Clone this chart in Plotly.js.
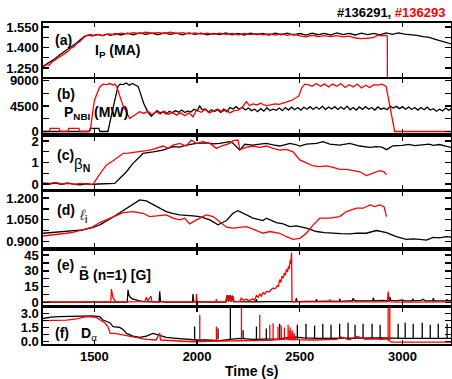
<!DOCTYPE html>
<html><head><meta charset="utf-8">
<script src="https://cdn.plot.ly/plotly-3.0.1.min.js"></script>
<style>html,body{margin:0;padding:0;background:#fff}</style>
</head><body><div id="chart" style="width:452px;height:379px"></div>
<script>
// ---------- (a) Plasma current Ip (MA) ----------
const ipBlackT = [1250,1270,1290,1310,1330,1350,1370,1390,1410,1430,1450,1465,1480,1500,1520,1540,1560,1580,1600,1630,1660,1690,1720,1750,1780,1810,1840,1870,1900,1930,1960,1990,2020,2050,2080,2110,2140,2170,2200,2230,2260,2290,2320,2350,2380,2410,2440,2470,2500,2530,2560,2590,2620,2650,2680,2710,2740,2770,2800,2830,2860,2890,2920,2950,2980,3010,3040,3070,3100,3130,3160,3190,3215,3240];
const ipBlackV = [1.262,1.28,1.30,1.32,1.345,1.365,1.385,1.41,1.43,1.455,1.48,1.49,1.495,1.488,1.497,1.486,1.498,1.49,1.502,1.492,1.506,1.494,1.507,1.496,1.505,1.494,1.508,1.497,1.505,1.493,1.507,1.496,1.505,1.493,1.504,1.495,1.507,1.493,1.504,1.492,1.506,1.495,1.503,1.491,1.505,1.494,1.506,1.492,1.503,1.491,1.506,1.494,1.504,1.492,1.507,1.495,1.504,1.492,1.506,1.495,1.504,1.493,1.507,1.497,1.508,1.498,1.494,1.49,1.48,1.474,1.46,1.447,1.436,1.425];
const ipRedT = [1250,1265,1280,1295,1310,1325,1340,1355,1370,1385,1400,1415,1430,1445,1460,1475,1490,1510,1540,1570,1600,1630,1660,1690,1720,1750,1780,1810,1840,1870,1900,1930,1960,1990,2020,2050,2080,2110,2140,2170,2200,2230,2260,2290,2320,2350,2380,2410,2440,2470,2500,2530,2560,2590,2620,2650,2680,2710,2740,2770,2800,2830,2860,2880,2900,2915,2926,2928];
const ipRedV = [1.255,1.275,1.27,1.295,1.31,1.325,1.34,1.36,1.37,1.395,1.405,1.43,1.445,1.47,1.485,1.49,1.484,1.496,1.49,1.5,1.494,1.506,1.5,1.51,1.502,1.512,1.505,1.51,1.503,1.512,1.504,1.51,1.5,1.508,1.498,1.506,1.497,1.505,1.496,1.503,1.493,1.503,1.495,1.502,1.494,1.5,1.492,1.5,1.49,1.498,1.485,1.478,1.49,1.48,1.488,1.48,1.487,1.478,1.484,1.47,1.465,1.468,1.475,1.49,1.485,1.49,1.485,0.0];

// ---------- (b) P_NBI ----------
const pRedT = [1250,1280,1285,1328,1333,1370,1375,1425,1430,1470,1480,1500,1525,1542,1560,1575,1590,1600,1610,1640,1672,1690,1720,1740,1760,1780,1800,1820,1840,1860,1880,1900,1920,1940,1960,1980,1997,2020,2040,2060,2080,2100,2120,2140,2160,2180,2200,2220,2240,2255,2272,2290,2310,2325,2340,2360,2380,2400,2420,2440,2460,2480,2495,2510,2525,2540,2560,2580,2600,2620,2640,2660,2680,2700,2720,2740,2760,2780,2800,2820,2840,2860,2880,2900,2920,2962,3240];
const pRedV = [0,0,550,550,0,0,550,550,0,0,200,5500,7800,8400,8300,8500,8250,8400,7800,4500,2300,2800,3500,3200,3600,3000,3500,3100,3600,3000,3400,2900,3300,2800,3300,2600,3800,3400,3900,3300,3600,4000,3500,3800,3300,3700,3800,4300,5300,4600,4900,4700,5000,4700,4600,4800,4900,4800,5100,5300,5500,6000,6300,7800,8400,8300,8000,8500,8000,8400,7900,8400,8000,8500,7800,8300,7900,8400,7700,8200,7800,8300,8200,8400,8000,0,0];
const pBlackT = [1250,1475,1480,1522,1527,1566,1590,1615,1625,1640,1655,1670,1685,1700,1713,1740,1761,1777,1790,1805,1820,1835,1850,1865,1880,1895,1910,1925,1940,1955,1970,1985,2000,2013,2025,2040,2055,2070,2085,2100,2115,2130,2145,2160,2175,2190,2205,2220,2235,2250,2265,2280,2295,2310,2325,2340,2355,2370,2385,2400,2415,2430,2445,2460,2475,2490,2505,2520,2535,2550,2565,2580,2595,2610,2625,2640,2655,2670,2685,2700,2715,2730,2745,2760,2775,2790,2805,2820,2835,2850,2865,2880,2895,2910,2925,2940,2955,2970,2985,3000,3015,3030,3045,3060,3075,3090,3105,3120,3135,3150,3165,3180,3195,3210,3225,3240];
const pBlackV = [0,0,550,550,0,0,4000,8000,8400,8300,8600,8200,8500,8300,8000,5000,3400,2700,3200,3700,3300,3500,3100,3600,3300,3700,3400,3800,3350,3650,3450,3950,3650,4500,3850,4000,3450,3850,3550,3850,3400,3950,3500,4250,4000,4400,3950,4300,3800,4150,3700,3950,3500,4050,3600,4200,3700,3950,3750,4150,3700,4250,3800,4300,3850,4250,3800,4300,3950,4400,3900,4350,3950,4500,3900,4350,4000,4400,3900,4350,3950,4500,3850,4250,3800,4350,3900,4400,3950,4250,3800,4350,3950,4150,3850,4500,4150,4450,4050,4400,3950,4350,3900,4250,3800,4250,3850,4300,3800,4050,3600,3950,3650,4150,3750,4150];

// ---------- (c) beta_N ----------
const bRedT = [1250,1280,1310,1340,1370,1400,1430,1460,1493,1525,1558,1591,1615,1640,1665,1688,1720,1753,1780,1802,1834,1859,1883,1915,1948,1972,1997,2029,2062,2094,2118,2159,2175,2199,2208,2240,2272,2305,2337,2370,2402,2435,2467,2500,2532,2565,2597,2630,2662,2694,2727,2759,2792,2824,2857,2889,2910,2922];
const bRedV = [0.05,0.03,0.07,0.0,0.05,-0.02,0.03,0.0,-0.03,0.45,0.88,1.08,1.25,1.43,1.44,1.46,1.50,1.55,1.6,1.66,1.77,1.66,1.81,1.89,1.77,2.05,1.89,1.97,1.89,1.66,1.77,1.89,2.02,2.05,1.61,1.71,1.77,1.71,1.77,1.66,1.58,1.61,1.50,1.12,0.99,0.84,0.81,0.84,0.78,0.68,0.68,0.62,0.57,0.39,0.50,0.62,0.57,0.42];
const bBlackT = [1250,1280,1310,1340,1370,1400,1430,1460,1490,1520,1550,1580,1599,1656,1688,1721,1737,1786,1834,1883,1915,1948,1997,2045,2080,2110,2140,2159,2175,2191,2208,2232,2272,2305,2337,2370,2402,2435,2451,2480,2500,2532,2581,2613,2646,2694,2743,2792,2841,2873,2900,2922,2954,3000,3030,3060,3100,3130,3150,3180,3210,3240];
const bBlackV = [0.02,0.0,0.04,-0.02,0.03,0.0,-0.04,0.01,-0.02,0.0,0.02,0.01,0.03,0.57,0.96,1.27,1.43,1.50,1.58,1.74,1.72,1.81,1.89,1.92,1.87,1.89,1.93,1.97,1.9,1.74,1.58,1.85,1.81,1.86,1.89,1.82,1.77,1.85,1.89,1.84,1.77,1.86,1.89,1.97,1.86,1.81,1.89,1.77,1.71,1.74,1.72,1.6,1.78,1.8,1.85,1.79,1.82,1.86,1.8,1.84,1.76,1.70];

// ---------- (d) internal inductance li ----------
const liBlackT = [1250,1300,1364,1400,1445,1490,1526,1570,1607,1640,1672,1700,1721,1753,1780,1802,1850,1880,1915,1980,2013,2062,2102,2143,2175,2199,2240,2272,2321,2337,2386,2419,2451,2483,2532,2581,2620,2662,2700,2743,2780,2824,2873,2922,2970,3019,3050,3084,3116,3149,3180,3214,3240];
const liBlackV = [0.957,0.962,0.969,0.975,0.980,0.995,1.015,1.05,1.084,1.11,1.141,1.17,1.187,1.180,1.16,1.141,1.107,1.095,1.084,1.077,1.072,1.049,1.015,1.045,1.095,1.113,1.084,1.061,1.045,1.061,1.031,1.022,1.003,1.008,0.992,0.969,0.962,0.957,0.955,0.953,0.958,0.957,0.976,0.962,0.933,0.915,0.918,0.915,0.910,0.929,0.925,0.933,0.929];
const liRedT = [1250,1300,1364,1400,1445,1490,1526,1560,1591,1640,1688,1737,1769,1818,1850,1883,1915,1940,1964,1997,2045,2078,2110,2143,2175,2210,2240,2272,2321,2354,2402,2435,2467,2500,2532,2565,2597,2646,2694,2727,2776,2808,2841,2865,2889,2910,2922];
const liRedV = [0.938,0.945,0.957,0.965,0.980,1.0,1.031,1.05,1.072,1.100,1.107,1.095,1.072,1.077,1.084,1.061,1.049,1.061,1.022,1.049,1.084,1.072,1.038,0.999,0.992,0.998,1.003,0.985,0.957,0.969,0.957,0.933,0.915,0.922,0.957,1.015,1.061,1.061,1.072,1.107,1.130,1.130,1.153,1.141,1.153,1.14,1.072];

// ---------- (e) B~ (n=1) [G] ----------
const bnRedT = [1250,1300,1350,1400,1450,1500,1550,1580,1583,1590,1600,1610,1650,1700,1745,1753,1760,1770,1775,1780,1800,1850,1900,1950,1995,1997,2000,2050,2090,2094,2098,2140,2145,2150,2160,2165,2175,2180,2208,2215,2225,2240,2255,2270,2280,2289,2296,2305,2313,2321,2330,2337,2350,2360,2370,2380,2390,2396,2402,2408,2413,2419,2425,2430,2435,2440,2445,2449,2453,2456,2460,2462,2500,2550,2600,2643,2646,2650,2700,2750,2800,2850,2900,2926,2930,2935,2940,3000,3050,3100,3150,3200,3240];
const bnRedV = [0.5,0.3,0.6,0.4,0.5,0.4,0.6,0.5,12.8,5,1.5,0.5,0.6,0.4,0.8,5,1.5,4.5,6,1,0.6,0.5,0.4,0.6,0.5,8,1,0.6,0.5,3,0.5,0.6,7,1,6.5,1,6,0.8,1,4,2,3,1.5,3.5,2,7,4.5,8,6,9.5,8,10.5,10,12,13.7,13,16,15,21.8,19,25,23,28,26,31.5,29,34.5,32,40,37,47.5,0.5,0.6,0.5,0.4,0.5,3,0.5,0.6,0.4,0.5,0.6,0.5,0.6,10.4,1,0.5,0.4,0.5,0.4,0.5,0.4,0.5];
const bnBlackT = [1250,1300,1350,1400,1450,1500,1550,1600,1660,1664,1668,1675,1685,1700,1720,1740,1780,1815,1818,1822,1850,1900,1950,1978,1980,1984,2050,2100,2140,2150,2154,2162,2166,2172,2176,2250,2286,2289,2293,2350,2400,2450,2480,2483,2487,2530,2578,2581,2585,2640,2692,2694,2698,2740,2755,2760,2765,2780,2820,2855,2858,2862,2900,2936,2939,2943,2970,3000,3010,3047,3050,3054,3090,3100,3110,3147,3150,3154,3200,3213,3216,3220,3240];
const bnBlackV = [0.3,0.4,0.2,0.3,0.4,0.2,0.3,0.4,0.3,12,7,5,3.5,2.5,1.5,0.8,0.4,0.3,10.5,1,0.4,0.3,0.4,0.3,8,0.5,0.4,0.3,0.4,7,0.8,7,0.8,6.5,0.8,0.5,0.6,3,0.6,0.8,0.7,0.8,0.8,4,0.8,1,1,3,1,1.2,1,3.5,1,1.5,1.5,4,2,1.5,1.5,1.5,4.5,1.5,2,1.5,5,2,1.5,2.5,1.5,1.5,3.5,1.5,2,3,1.5,1.5,4,1.5,1.5,1.5,3,1.5,2];

// ---------- (f) D-alpha ----------
const daBlackT = [1250,1290,1331,1390,1445,1490,1526,1542,1575,1591,1623,1640,1656,1688,1721,1753,1786,1818,1850,1899,1948,1997,2045,2110,2159,2208,2272,2337,2400,2467,2520,2600,2700,2800,2900,3000,3100,3200,3240];
const daBlackV = [2.45,2.6,2.64,2.68,2.71,2.72,2.64,2.29,2.01,1.59,1.52,1.3,0.88,0.60,0.46,0.6,0.88,0.71,0.46,0.36,0.25,0.18,0.18,0.11,0.25,0.36,0.25,0.25,0.3,0.5,0.4,0.35,0.38,0.35,0.4,0.35,0.38,0.33,0.35];
const daBlackSpikeT = [1988,2102,2162,2224,2289,2337,2402,2488,2530,2572,2612,2652,2694,2735,2769,2808,2852,2891,2979,3013,3052,3096,3135,3174,3217];
const daBlackSpikeV = [1.6,1.4,3.6,1.2,1.6,1.4,1.9,1.8,1.9,1.7,1.9,1.8,1.9,2.0,1.8,1.9,1.9,1.8,1.9,2.0,1.9,2.0,1.8,1.9,1.9];
const daBlackSpikeBase = 0.3;
const daRedT = [1250,1300,1364,1420,1461,1510,1526,1550,1566,1573,1577,1599,1640,1688,1753,1800,1818,1822,1883,1980,2050,2150,2250,2350,2440,2500,2560,2620,2680,2700,2740,2780,2820,2860,2900,2925,2945,3000,3240];
const daRedV = [2.22,2.25,2.29,2.45,2.64,2.57,2.36,2.01,1.59,1.2,0.88,0.88,0.71,0.46,0.25,0.18,0.9,0.18,0.11,0.0,0.05,0.1,0.12,0.15,0.3,0.2,0.18,0.2,0.25,0.5,0.2,0.55,0.25,0.3,0.25,0.3,-0.05,-0.05,-0.05];
const daRedSpikeT = [2013,2094,2216,2305,2354,2370,2394,2410,2425,2443,2448,2453,2458,2463,2468,2473,2478,2930,2938];
const daRedSpikeV = [2.82,1.6,3.6,2.82,1.8,1.94,1.6,1.7,1.5,1.8,1.2,1.5,1.0,1.2,0.8,0.9,0.6,3.6,3.6];
const daRedSpikeBase = 0.15;

const timeTicks = [1500,2000,2500,3000];

// ---------- build ----------
const RED = '#ff0000', BLK = '#000000';
function line(x, y, color, n) {
  return {x: x, y: y, type: 'scatter', mode: 'lines', xaxis: n === 1 ? 'x' : 'x' + n, yaxis: n === 1 ? 'y' : 'y' + n,
          line: {color: color, width: 1.3}, hoverinfo: 'skip', showlegend: false, connectgaps: false};
}
function spikes(ts, vs, base, color, n) {
  const x = [], y = [];
  for (let i = 0; i < ts.length; i++) { x.push(ts[i], ts[i], null); y.push(base, vs[i], null); }
  return line(x, y, color, n);
}
const data = [
  line(ipBlackT, ipBlackV, BLK, 1), line(ipRedT, ipRedV, RED, 1),
  line(pBlackT, pBlackV, BLK, 2), line(pRedT, pRedV, RED, 2),
  line(bBlackT, bBlackV, BLK, 3), line(bRedT, bRedV, RED, 3),
  line(liBlackT, liBlackV, BLK, 4), line(liRedT, liRedV, RED, 4),
  line(bnBlackT, bnBlackV, BLK, 5), line(bnRedT, bnRedV, RED, 5),
  line(daBlackT, daBlackV, BLK, 6), spikes(daBlackSpikeT, daBlackSpikeV, daBlackSpikeBase, BLK, 6),
  line(daRedT, daRedV, RED, 6), spikes(daRedSpikeT, daRedSpikeV, daRedSpikeBase, RED, 6)
];

const FONT = 'Liberation Sans, Arial, sans-serif';
const tickFont = {family: FONT, size: 13, color: '#000', weight: 'bold'};
const PT = 23, PB = 344, PH = PB - PT;
const panels = [[23,77],[79,133],[137,188.5],[192,247],[251,305],[308,344]];
const yRanges = [[1.184,1.58],[-265,9300],[-0.21,2.19],[0.862,1.242],[-2.4,48.9],[-0.24,3.56]];
// labelled ticks and the unlabelled mid ticks between them
const yTicks = [[1.25,1.325,1.4,1.475,1.55],[0,2250,4500,6750,9000],[0,0.5,1,1.5,2],[0.9,0.975,1.05,1.125,1.2],[0,7.5,15,22.5,30,37.5,45],[0,0.75,1.5,2.25,3]];
const yText = [['1.250',' ','1.400',' ','1.550'],['0',' ','4500',' ','9000'],['0',' ','1',' ','2'],['0.900',' ','1.050',' ','1.200'],['0',' ','15',' ','30',' ','45'],['0.0',' ','1.5',' ','3.0']];

const layout = {width: 452, height: 379, margin: {l: 43, r: 1, t: PT, b: 379 - PB, pad: 0},
  paper_bgcolor: '#fff', plot_bgcolor: '#fff', showlegend: false, annotations: []};
for (let i = 0; i < 6; i++) {
  const n = i + 1, sx = n === 1 ? '' : String(n);
  const xa = {range: [1250, 3236], anchor: 'y' + sx,
    tickmode: 'array', tickvals: timeTicks, ticktext: timeTicks.map(String),
    showticklabels: n === 6, ticks: 'inside', ticklen: 4, tickwidth: 1.3, tickcolor: '#000',
    showline: true, linecolor: '#000', linewidth: 1.6, mirror: 'ticks', showgrid: false, zeroline: false,
    tickfont: tickFont};
  if (n > 1) xa.matches = 'x';
  layout['xaxis' + sx] = xa;
  layout['yaxis' + sx] = {range: yRanges[i], anchor: 'x' + sx,
    domain: [(PB - panels[i][1]) / PH, (PB - panels[i][0]) / PH],
    tickmode: 'array', tickvals: yTicks[i], ticktext: yText[i], ticks: 'inside', ticklen: 6, tickwidth: 1.3, tickcolor: '#000',
    showline: true, linecolor: '#000', linewidth: 1.6, mirror: 'ticks', showgrid: false, zeroline: false,
    tickfont: tickFont};
}
function px(x) { return (x - 43) / 408; }
function py(y) { return (PB - y) / PH; }
function ann(text, x, y, size, opts) {
  return Object.assign({text: text, xref: 'paper', yref: 'paper', x: px(x), y: py(y), xanchor: 'left', yanchor: 'middle',
    showarrow: false, font: {family: FONT, size: size, color: '#000'}}, opts || {});
}
layout.annotations.push(
  ann('<b>#136291, </b><b><span style="color:#ff0000">#136293</span></b>', 447, 13, 13, {xanchor: 'right'}),
  ann('<b>(a)</b>', 53, 40, 14),
  ann('<b>I<sub>P</sub> (MA)</b>', 93, 51, 14),
  ann('<b>(b)</b>', 55, 94, 14),
  ann('<b>P<sub>NBI</sub> (MW)</b>', 62, 113, 14),
  ann('<b>(c)</b>', 55, 155, 14),
  ann('β<sub><b>N</b></sub>', 72, 164, 15),
  ann('<b>(d)</b>', 55, 210, 14),
  ann('<i>ℓ</i><sub><b>i</b></sub>', 77, 215, 15, {font: {family: FONT, size: 15, color: '#444'}}),
  ann('<b>(e)</b>', 55, 265, 14),
  ann('<b>B\u0303 (n=1) [G]</b>', 77, 274, 14),
  ann('<b>(f)</b>', 53, 333, 14),
  ann('<b>D</b><sub>α</sub>', 79, 334, 14),
  ann('<b>Time (s)</b>', 252, 371, 14, {xanchor: 'center'})
);
Plotly.newPlot('chart', data, layout, {staticPlot: true, displayModeBar: false});
</script></body></html>
